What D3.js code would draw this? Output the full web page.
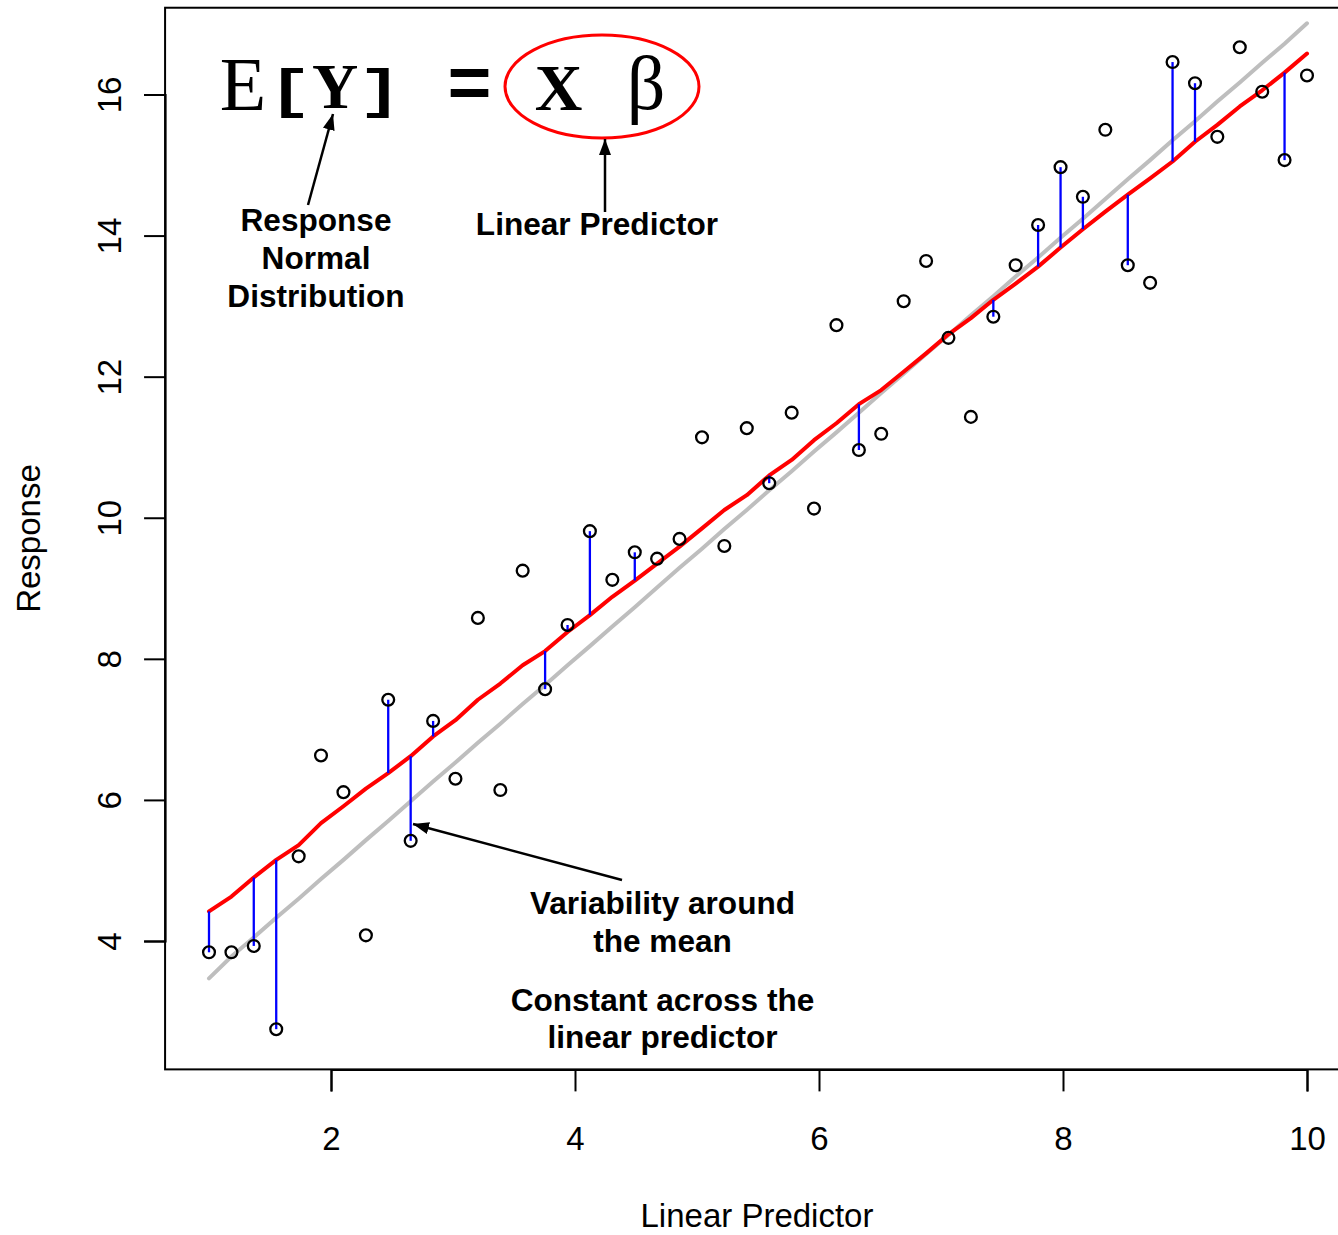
<!DOCTYPE html>
<html>
<head>
<meta charset="utf-8">
<script src="https://cdn.jsdelivr.net/npm/d3@7/dist/d3.min.js"></script>
<style>
  html, body { margin: 0; padding: 0; background: #ffffff; }
  svg { display: block; }
</style>
</head>
<body>
<svg id="chart" width="1338" height="1235"></svg>
<script>
// ---- data ----
const linearPredictor = [1.000,1.184,1.367,1.551,1.735,1.918,2.102,2.286,2.469,2.653,
  2.837,3.020,3.204,3.388,3.571,3.755,3.939,4.122,4.306,4.490,
  4.673,4.857,5.041,5.224,5.408,5.592,5.776,5.959,6.143,6.327,
  6.510,6.694,6.878,7.061,7.245,7.429,7.612,7.796,7.980,8.163,
  8.347,8.531,8.714,8.898,9.082,9.265,9.449,9.633,9.816,10.000];

const response = [3.84,3.84,3.93,2.75,5.20,6.63,6.11,4.08,7.42,5.42,
  7.12,6.30,8.58,6.14,9.25,7.57,8.48,9.81,9.12,9.51,
  9.42,9.70,11.14,9.60,11.27,10.49,11.49,10.13,12.73,10.96,
  11.19,13.07,13.64,12.55,11.43,12.85,13.58,14.15,14.97,14.55,
  15.50,13.58,13.33,16.46,16.16,15.40,16.67,16.04,15.07,16.27];

const fittedMean = [4.42,4.63,4.90,5.15,5.36,5.67,5.91,6.16,6.38,6.62,
  6.90,7.13,7.42,7.65,7.91,8.11,8.38,8.62,8.88,9.11,
  9.35,9.59,9.85,10.11,10.32,10.60,10.82,11.10,11.34,11.61,
  11.81,12.07,12.33,12.60,12.83,13.09,13.32,13.56,13.83,14.09,
  14.34,14.58,14.81,15.05,15.33,15.57,15.83,16.06,16.31,16.58];

const trueMean = [3.47,3.78,4.05,4.33,4.60,4.88,5.15,5.43,5.70,5.98,
  6.26,6.53,6.81,7.08,7.36,7.63,7.91,8.18,8.46,8.73,
  9.01,9.29,9.56,9.84,10.11,10.39,10.66,10.94,11.21,11.49,
  11.77,12.04,12.32,12.59,12.87,13.14,13.42,13.69,13.97,14.24,
  14.52,14.80,15.07,15.35,15.62,15.90,16.17,16.45,16.72,17.01];

const residualIndex = [0,2,3,8,9,10,15,16,17,19,25,29,35,37,38,39,41,43,44,48];

const xTicks = [2,4,6,8,10];
const yTicks = [4,6,8,10,12,14,16];
const xLimits = [0.64, 10.36];
const yLimits = [2.18, 17.23];

// ---- drawing ----
const svg = d3.select("#chart");
const sans = "'Liberation Sans', Arial, Helvetica, sans-serif";
const serif = "'Liberation Serif', 'Times New Roman', serif";
const mono = "'Liberation Mono', 'Courier New', monospace";

const x = d3.scaleLinear().domain([2, 10]).range([331, 1307]);
const y = d3.scaleLinear().domain([4, 16]).range([941, 94.5]);

const defs = svg.append("defs");
defs.append("marker")
  .attr("id", "arrow")
  .attr("viewBox", "0 0 16 12")
  .attr("refX", 16).attr("refY", 6)
  .attr("markerWidth", 16).attr("markerHeight", 12)
  .attr("markerUnits", "userSpaceOnUse")
  .attr("orient", "auto")
  .append("path").attr("d", "M0,0 L16,6 L0,12 Z").attr("fill", "#000");

// plot box
svg.append("rect")
  .attr("x", x(xLimits[0])).attr("y", y(yLimits[1]))
  .attr("width", x(xLimits[1]) - x(xLimits[0]))
  .attr("height", y(yLimits[0]) - y(yLimits[1]))
  .attr("fill", "none").attr("stroke", "#000").attr("stroke-width", 2);

// x axis
const xAxis = d3.axisBottom(x).tickValues(xTicks).tickSize(22).tickPadding(35)
  .tickFormat(d3.format("d"));
const gx = svg.append("g").attr("transform", `translate(0,${y(yLimits[0])})`).call(xAxis);
gx.select(".domain").attr("stroke-width", 2);
gx.selectAll(".tick line").attr("stroke-width", 2);
gx.selectAll(".tick text").attr("font-family", sans).attr("font-size", 33).attr("fill", "#000");

// y axis
const yAxis = d3.axisLeft(y).tickValues(yTicks).tickSize(21).tickPadding(0)
  .tickFormat(d3.format("d"));
const gy = svg.append("g").attr("transform", `translate(${x(xLimits[0])},0)`).call(yAxis);
gy.select(".domain").attr("stroke-width", 2);
gy.selectAll(".tick line").attr("stroke-width", 2);
gy.selectAll(".tick text")
  .attr("font-family", sans).attr("font-size", 33).attr("fill", "#000")
  .attr("x", null).attr("dy", null)
  .attr("text-anchor", "middle")
  .attr("transform", "translate(-44,0) rotate(-90)");

// axis titles
svg.append("text")
  .attr("x", (x(xLimits[0]) + x(xLimits[1])) / 2 - 1).attr("y", 1227)
  .attr("text-anchor", "middle")
  .attr("font-family", sans).attr("font-size", 33)
  .text("Linear Predictor");
svg.append("text")
  .attr("transform", `translate(40,${(y(yLimits[0]) + y(yLimits[1])) / 2}) rotate(-90)`)
  .attr("text-anchor", "middle")
  .attr("font-family", sans).attr("font-size", 33)
  .text("Response");

// true mean (gray)
const line = d3.line().x(d => x(d[0])).y(d => y(d[1]));
svg.append("path")
  .datum(linearPredictor.map((v, i) => [v, trueMean[i]]))
  .attr("d", line)
  .attr("fill", "none").attr("stroke", "#bebebe").attr("stroke-width", 4)
  .attr("stroke-linecap", "round");

// fitted mean (red)
svg.append("path")
  .datum(linearPredictor.map((v, i) => [v, fittedMean[i]]))
  .attr("d", line)
  .attr("fill", "none").attr("stroke", "#ff0000").attr("stroke-width", 4)
  .attr("stroke-linejoin", "round").attr("stroke-linecap", "round");

// residual segments (blue)
svg.append("g").selectAll("line")
  .data(residualIndex)
  .join("line")
  .attr("x1", i => x(linearPredictor[i])).attr("x2", i => x(linearPredictor[i]))
  .attr("y1", i => y(response[i])).attr("y2", i => y(fittedMean[i]))
  .attr("stroke", "#0000ff").attr("stroke-width", 2.3);

// points
svg.append("g").selectAll("circle")
  .data(linearPredictor.map((v, i) => [v, response[i]]))
  .join("circle")
  .attr("cx", d => x(d[0])).attr("cy", d => y(d[1]))
  .attr("r", 5.9)
  .attr("fill", "none").attr("stroke", "#000").attr("stroke-width", 2.3);

// ---- equation ----
function glyph(t, cx, base, family, size, weight, sy) {
  svg.append("text")
    .attr("transform", `translate(${cx},${base}) scale(1,${sy || 1})`)
    .attr("text-anchor", "middle")
    .attr("font-family", family).attr("font-size", size)
    .attr("font-weight", weight)
    .text(t);
}
glyph("E", 243, 110, serif, 76, "normal");
glyph("[", 290, 107, mono, 74, "bold", 0.72);
glyph("Y", 335, 108, serif, 64, "bold");
glyph("]", 380, 107, mono, 74, "bold", 0.72);
glyph("=", 469.5, 108, mono, 75, "bold");
glyph("X", 558.5, 110, serif, 66, "bold");
glyph("β", 646, 109, serif, 76, "normal");
svg.append("ellipse")
  .attr("cx", 602).attr("cy", 86.5).attr("rx", 97).attr("ry", 51.5)
  .attr("fill", "none").attr("stroke", "#ff0000").attr("stroke-width", 3);

// ---- annotations ----
function label(lines, cx, baselines) {
  lines.forEach((t, k) => {
    svg.append("text")
      .attr("x", cx).attr("y", baselines[k])
      .attr("text-anchor", "middle")
      .attr("font-family", sans).attr("font-weight", "bold").attr("font-size", 31.6)
      .text(t);
  });
}
label(["Response", "Normal", "Distribution"], 316, [231, 269, 307]);
label(["Linear Predictor"], 597, [235]);
label(["Variability around", "the mean"], 662.5, [914, 952]);
label(["Constant across the", "linear predictor"], 662.5, [1011, 1048]);

function arrow(x1, y1, x2, y2) {
  svg.append("line")
    .attr("x1", x1).attr("y1", y1).attr("x2", x2).attr("y2", y2)
    .attr("stroke", "#000").attr("stroke-width", 2.5)
    .attr("marker-end", "url(#arrow)");
}
arrow(308, 205, 333, 114);
arrow(605, 212, 605, 139);
arrow(622, 880, 413, 824);
</script>
</body>
</html>
